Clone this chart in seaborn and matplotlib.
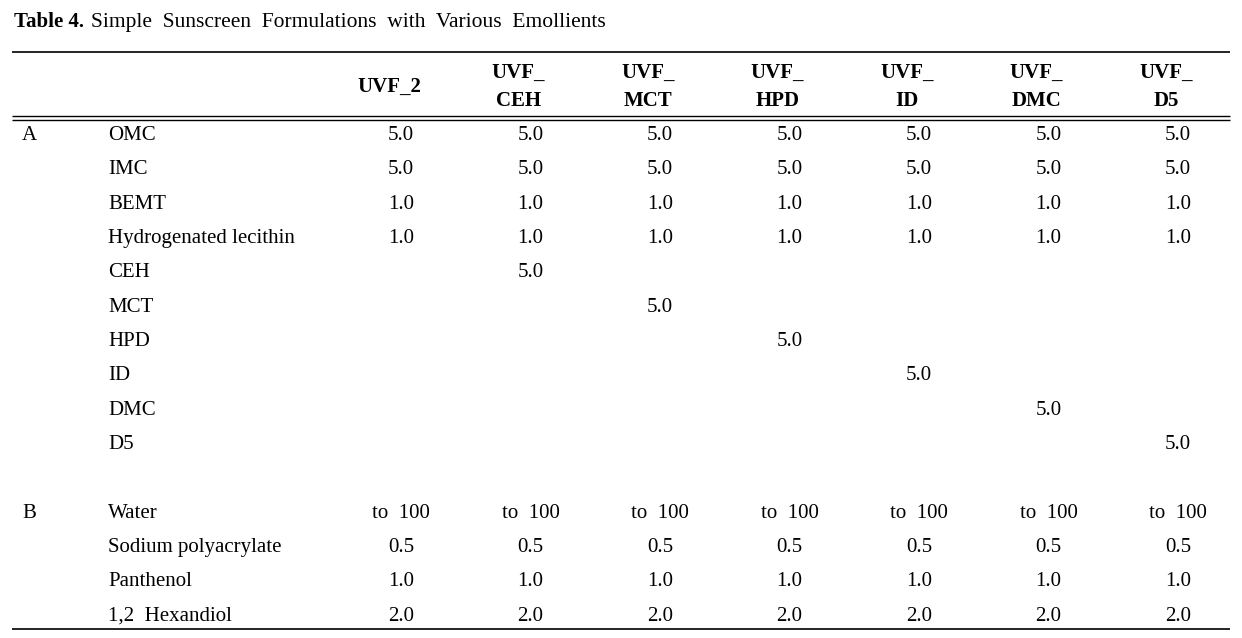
import numpy as np
import pandas as pd
import seaborn as sns
import matplotlib.pyplot as plt

# Datos de la tabla
formulas = ["UVF_2", "UVF_\nCEH", "UVF_\nMCT", "UVF_\nHPD", "UVF_\nID", "UVF_\nDMC", "UVF_\nD5"]
phase = ["A", "", "", "", "", "", "", "", "", "", "B", "", "", ""]
ingredients = ["OMC", "IMC", "BEMT", "Hydrogenated lecithin", "CEH", "MCT", "HPD",
               "ID", "DMC", "D5", "Water", "Sodium polyacrylate", "Panthenol", "1,2  Hexandiol"]
base_a = ["5.0", "5.0", "1.0", "1.0"]
emollients = ["CEH", "MCT", "HPD", "ID", "DMC", "D5"]
base_b = ["to  100", "0.5", "1.0", "2.0"]

# Construye la tabla como DataFrame
rows = []
for j, f in enumerate(formulas):
    col = list(base_a)
    for k, e in enumerate(emollients):
        col.append("5.0" if k == j - 1 else "")
    col += base_b
    rows.append(col)
df = pd.DataFrame(np.array(rows).T, columns=formulas)
df.insert(0, "ingredient", ingredients)
df.insert(0, "phase", phase)

sns.set_theme(style="white")
plt.rcParams['font.family'] = ['Liberation Serif', 'DejaVu Serif']
plt.rcParams['text.color'] = 'black'

fig = plt.figure(figsize=(12.42, 6.38), dpi=100)
ax = fig.add_axes([0, 0, 1, 1])
ax.set_xlim(0, 1242)
ax.set_ylim(638, 0)
ax.axis("off")

fs = 15
# Titulo
ax.text(14, 27, "Table 4.", fontsize=15, fontweight="bold", va="baseline", ha="left")
ax.text(91, 27, "Simple  Sunscreen  Formulations  with  Various  Emollients",
        fontsize=15.5, va="baseline", ha="left")

# Lineas
ax.hlines(52, 12, 1230, color="black", lw=1.2)
ax.hlines([116, 120], 12, 1230, color="black", lw=1.0)
ax.hlines(629, 12, 1230, color="black", lw=1.2)

# Encabezados
val_x = 401 + 129.5 * np.arange(len(formulas))
head_x = val_x - 12
for x, f in zip(head_x, formulas):
    ax.text(x, 87, f, fontsize=fs, fontweight="bold", ha="center", va="center",
            linespacing=1.55)

# Filas (linea base del texto)
row_y = list(140 + 34.35 * np.arange(10)) + list(518 + 34.2 * np.arange(4))
for i, y in enumerate(row_y):
    ax.text(22, y, df["phase"][i], fontsize=fs, ha="left", va="baseline")
    ax.text(108, y, df["ingredient"][i], fontsize=fs, ha="left", va="baseline")
    for x, f in zip(val_x, formulas):
        ax.text(x, y, df[f][i], fontsize=fs, ha="center", va="baseline")

fig.savefig("out.png", dpi=100)
